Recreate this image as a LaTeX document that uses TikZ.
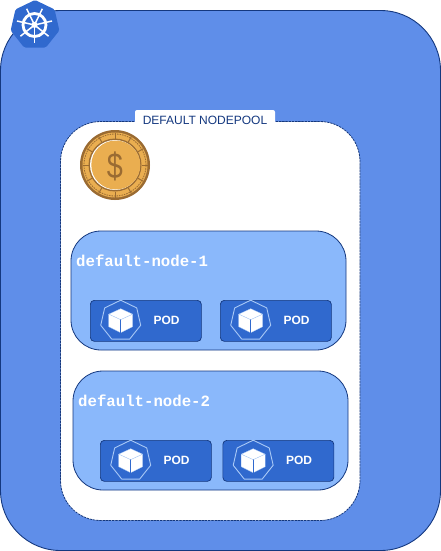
\documentclass[tikz,border=0pt]{standalone}
\usepackage{fontspec}
\setmainfont{Liberation Sans}
\newfontfamily\nodefont{Liberation Mono}
\usetikzlibrary{shapes.geometric}

\definecolor{clusterblue}{HTML}{5F8EE9}
\definecolor{podblue}{HTML}{3069CE}
\definecolor{nodeblue}{HTML}{8AB8FB}
\definecolor{navy}{HTML}{14387F}
\definecolor{hexline}{HTML}{A9C9F6}
\definecolor{coinfill}{HTML}{EAAE50}
\definecolor{coinedge}{HTML}{9A6B32}

\tikzset{
  hept/.style={regular polygon,regular polygon sides=7,inner sep=0pt},
  podbox/.style={draw=navy,fill=podblue,rounded corners=4pt,line width=0.7pt,minimum width=111pt,minimum height=41pt,inner sep=0pt},
  nodebox/.style={draw=navy,fill=nodeblue,rounded corners=30pt,line width=0.8pt},
  nodelabel/.style={anchor=west,text=white,inner sep=0pt,font=\nodefont\bfseries\fontsize{15.7}{16}\selectfont},
  podlabel/.style={text=white,inner sep=0pt,font=\bfseries\fontsize{12}{14}\selectfont},
}

% one pod: name, left edge, top edge
\newcommand{\podbox}[3]{
\node[podbox,anchor=north west] (#1) at (#2,#3) {};
\begin{scope}[shift={(#2+30.7,#3+20.7)}]
\node[hept,draw=hexline,line width=0.9pt,minimum size=41pt] (#1hept) at (0,0) {};
\filldraw[fill=white,draw=hexline,line width=0.3pt,line join=round] (0,-12.) -- (12.,-6.5) -- (0,-1.) -- (-12.,-6.5) -- cycle;
\filldraw[fill=white,draw=hexline,line width=0.3pt,line join=round] (-12.,-6.5) -- (0,-1.) -- (0,12.) -- (-12.,6.) -- cycle;
\filldraw[fill=white,draw=hexline,line width=0.3pt,line join=round] (12.,-6.5) -- (0,-1.) -- (0,12.) -- (12.,6.) -- cycle;
\draw[color=podblue,line width=0.7pt] (0,-1.) -- (0,12.);
\end{scope}
\node[podlabel] (#1text) at (#2+76.5,#3+20) {POD};
}

\begin{document}
\begin{tikzpicture}[line cap=round,line join=round,x=1pt,y=-1pt]
\useasboundingbox (0,0) rectangle (441,551);
% cluster
\draw[draw=navy,fill=clusterblue,line width=0.9pt,rounded corners=60pt] (0.5,10.5) rectangle (440.5,550.5);
% logo
\node[hept,fill=podblue,rounded corners=1.5pt,minimum size=50pt] (logo) at (35,25) {};
\draw[color=white,line width=2.8pt] (34.5,25) circle (11.5pt);
\fill[color=white] (34.5,25) circle (3pt);
\foreach \a in {0,...,6}
  \draw[color=white,line width=1.5pt,line cap=butt] (34.5,25) -- ++({-90+\a*360/7}:18pt);
% nodepool
\draw[draw=navy,fill=white,line width=0.8pt,dash pattern=on 2pt off 1.2pt,rounded corners=40pt] (60.5,121.5) rectangle (360,520.5);
\node[fill=white,rounded corners=2pt,minimum width=140pt,minimum height=20pt,inner sep=0pt,text=navy,font=\fontsize{12}{14}\selectfont] (pool) at (205,120) {DEFAULT NODEPOOL};
% coin
\fill[color=coinedge] (115,165) circle (35pt);
\fill[color=coinfill] (115,165) circle (32.5pt);
\draw[color=coinedge,line width=0.8pt,dash pattern=on 1.5pt off 1pt,line cap=butt] (115,165) circle (31pt);
\fill[color=coinedge] (115,165) circle (26.5pt);
\fill[color=white] (115,165) circle (25pt);
\fill[color=coinfill] (115.8,165) circle (24.5pt);
\foreach \a in {0,30,...,330}
  \draw[color=coinedge,line width=1pt,line cap=butt] (115,165) ++(\a:26.5pt) -- ++(\a:6pt);
\node[text=coinedge,inner sep=0pt,font=\fontsize{36}{36}\selectfont] (dollar) at (115,166) {\scalebox{0.8}[1]{\$}};
% nodes
\draw[nodebox] (71,231) rectangle (346,350);
\node[nodelabel] (nodeone) at (76,261) {default-node-1};
\draw[nodebox] (73,371) rectangle (348,490);
\node[nodelabel] (nodetwo) at (78,401) {default-node-2};
% pods
\podbox{podA}{90}{300}
\podbox{podB}{220}{300}
\podbox{podC}{100}{440}
\podbox{podD}{222.5}{440}
\end{tikzpicture}
\end{document}
